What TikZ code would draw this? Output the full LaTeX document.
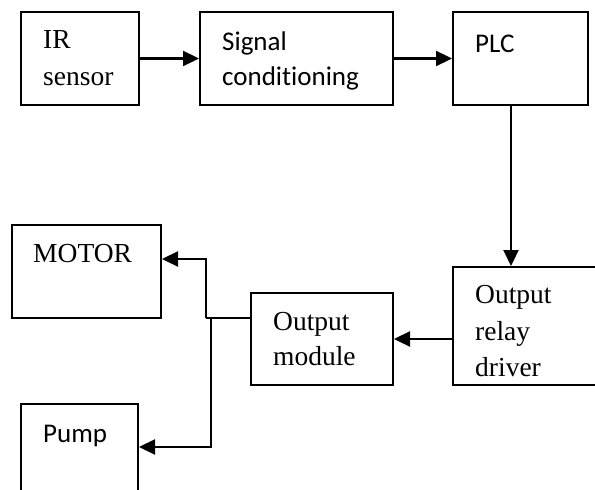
\documentclass[tikz,border=0pt]{standalone}
\usepackage{fontspec}
\setmainfont{Liberation Serif}
\newfontfamily\calib[Ligatures=NoCommon]{Carlito}
\usetikzlibrary{arrows.meta}
\tikzset{
  blk/.style={draw=black, line width=2pt, rectangle, inner sep=0pt},
  conn/.style={draw=black, line width=2.3pt, -{Triangle[length=16pt,width=15pt]}},
  wire/.style={draw=black, line width=2pt},
  serif/.style={anchor=base west, inner sep=0pt, font=\fontsize{27.5}{36}\selectfont},
  sans/.style={anchor=base west, inner sep=0pt, font=\calib\fontsize{27}{36}\selectfont},
}
\begin{document}
\begin{tikzpicture}[x=1pt,y=-1pt]
\useasboundingbox (0,0) rectangle (595,490);
\clip (0,0) rectangle (595,490);
% boxes
\node[blk, minimum width=118pt, minimum height=93pt] (ir) at (80,58.5) {};
\node[blk, minimum width=193pt, minimum height=93pt] (sig) at (296.5,58.5) {};
\node[blk, minimum width=135pt, minimum height=93pt] (plc) at (520.5,58.5) {};
\node[blk, minimum width=160pt, minimum height=118pt] (relay) at (533,326) {};
\node[blk, minimum width=142pt, minimum height=92pt] (module) at (322,339) {};
\node[blk, minimum width=149pt, minimum height=93pt] (motor) at (86.5,271.5) {};
\node[blk, minimum width=117pt, minimum height=110pt] (pump) at (79.5,459) {};
% texts
\node[serif] (t1) at (43,48) {IR};
\node[serif] (t2) at (43,85) {sensor};
\node[sans] (t3) at (222,50) {Signal};
\node[sans] (t4) at (222,85) {conditioning};
\node[sans] (t5) at (475,52) {PLC};
\node[serif] (t6) at (475,303) {Output};
\node[serif] (t7) at (475,340) {relay};
\node[serif] (t8) at (475,376) {driver};
\node[serif] (t9) at (273,330) {Output};
\node[serif] (t10) at (273,365) {module};
\node[serif] (t11) at (33,262) {MOTOR};
\node[sans] (t12) at (43,442) {Pump};
% connectors
\coordinate (px) at (511,0);
\coordinate (ja) at (206,318);
\coordinate (mt) at (206,259);
\coordinate (jb) at (211,318);
\coordinate (pb) at (211,447);
\draw[conn] (ir.east) -- (sig.west);
\draw[conn] (sig.east) -- (plc.west);
\draw[conn] (plc.south -| px) -- (relay.north -| px);
\draw[conn] (relay.west |- module.east) -- (module.east);
\draw[wire] (module.west |- ja) -- (ja);
\draw[conn] (ja) -- (mt) -- (motor.east |- mt);
\draw[conn] (jb) -- (pb) -- (pump.east |- pb);
\end{tikzpicture}
\end{document}
